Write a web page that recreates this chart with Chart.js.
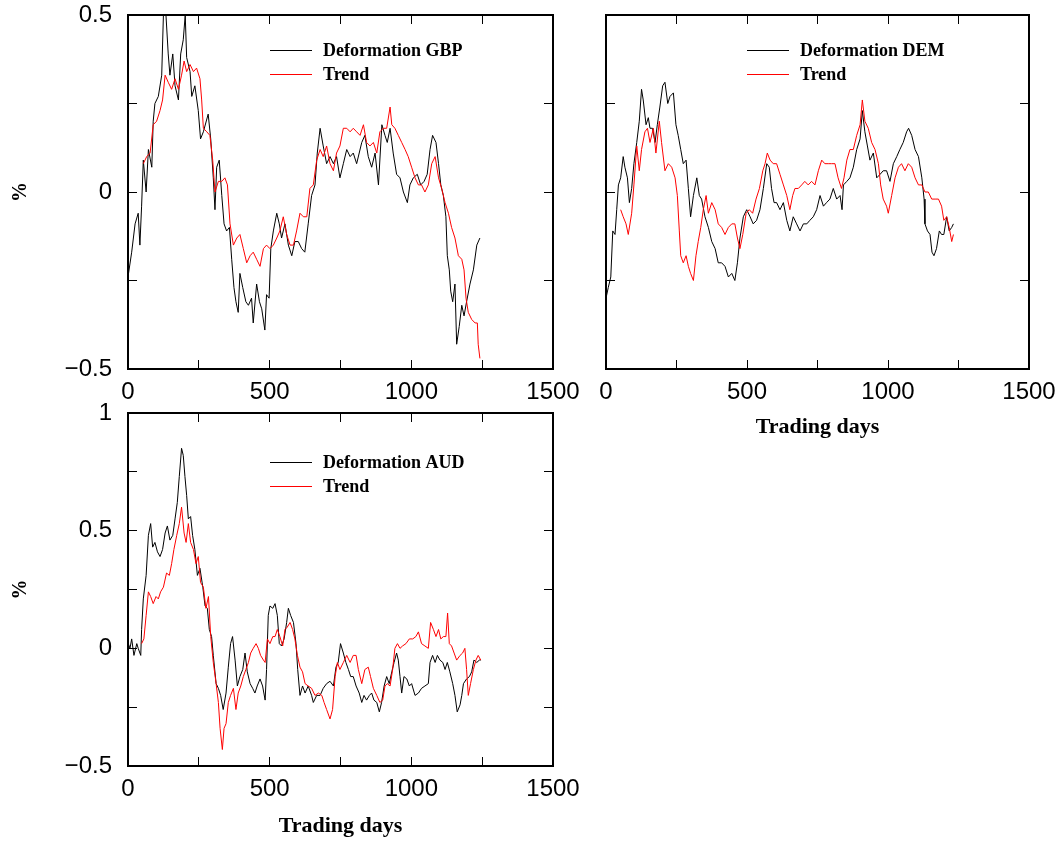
<!DOCTYPE html>
<html>
<head>
<meta charset="utf-8">
<title>Deformation and trend</title>
<script src="https://cdn.jsdelivr.net/npm/chart.js@4.4.1/dist/chart.umd.min.js"></script>
<style>
  html, body { margin: 0; padding: 0; background: #fff; }
  body { position: relative; width: 1064px; height: 842px; overflow: hidden; }
  canvas { position: absolute; }
</style>
</head>
<body>
<canvas id="gbpChart" width="590" height="400" style="left:0;top:0"></canvas>
<canvas id="demChart" width="504" height="460" style="left:560px;top:0"></canvas>
<canvas id="audChart" width="590" height="462" style="left:0;top:380px"></canvas>
<script>
// Gegevens (handelsdag, procent)

const gbpDeformDays = [0, 13, 25, 36, 42, 48, 54, 64, 72, 84, 89, 95, 107, 119, 125, 134, 142, 148, 158, 166, 178, 186, 195, 202, 207, 219, 225, 236, 248, 256, 266, 283, 292, 301, 307, 313, 322, 331, 339, 348, 358, 366, 374, 381, 389, 395, 405, 416, 425, 436, 442, 454, 464, 472, 483, 489, 498, 504, 513, 525, 534, 542, 554, 566, 578, 589, 601, 613, 624, 636, 648, 660, 668, 678, 689, 701, 713, 725, 736, 748, 760, 772, 784, 795, 807, 825, 836, 848, 860, 872, 884, 896, 907, 915, 925, 936, 948, 960, 972, 986, 995, 1007, 1021, 1033, 1045, 1056, 1066, 1075, 1087, 1096, 1104, 1113, 1122, 1127, 1134, 1139, 1146, 1154, 1160, 1169, 1178, 1186, 1195, 1207, 1219, 1231, 1242];
const gbpDeformVals = [-0.24, -0.17, -0.09, -0.06, -0.15, -0.04, 0.09, 0.0, 0.12, 0.07, 0.20, 0.25, 0.27, 0.33, 0.5, 0.5, 0.39, 0.33, 0.39, 0.30, 0.26, 0.39, 0.43, 0.5, 0.38, 0.34, 0.27, 0.30, 0.23, 0.15, 0.17, 0.22, 0.15, 0.04, -0.05, 0.07, 0.09, -0.01, -0.09, -0.11, -0.10, -0.19, -0.27, -0.31, -0.34, -0.23, -0.27, -0.31, -0.32, -0.30, -0.37, -0.26, -0.31, -0.33, -0.39, -0.29, -0.30, -0.16, -0.11, -0.06, -0.09, -0.13, -0.09, -0.15, -0.18, -0.14, -0.14, -0.16, -0.17, -0.09, -0.01, 0.02, 0.11, 0.18, 0.13, 0.08, 0.10, 0.08, 0.10, 0.04, 0.08, 0.12, 0.10, 0.11, 0.08, 0.14, 0.16, 0.10, 0.07, 0.11, 0.02, 0.19, 0.16, 0.14, 0.18, 0.11, 0.05, 0.04, 0.0, -0.03, 0.02, 0.04, 0.05, 0.02, 0.03, 0.05, 0.12, 0.16, 0.14, 0.08, 0.02, -0.01, -0.07, -0.18, -0.22, -0.28, -0.31, -0.26, -0.43, -0.38, -0.32, -0.35, -0.31, -0.26, -0.22, -0.15, -0.13];

const gbpTrendDays = [54, 66, 78, 89, 101, 113, 122, 131, 142, 154, 166, 178, 189, 198, 207, 219, 231, 242, 254, 260, 266, 278, 289, 299, 307, 319, 331, 342, 351, 360, 372, 384, 395, 407, 419, 431, 442, 454, 466, 478, 489, 501, 513, 525, 536, 548, 560, 572, 584, 595, 607, 619, 631, 642, 654, 666, 678, 689, 701, 713, 725, 736, 748, 760, 772, 784, 795, 807, 819, 831, 842, 854, 866, 878, 889, 901, 913, 925, 931, 942, 954, 966, 978, 989, 1001, 1013, 1025, 1036, 1048, 1060, 1072, 1084, 1096, 1107, 1119, 1131, 1142, 1154, 1166, 1178, 1186, 1193, 1201, 1213, 1225, 1233, 1236, 1242];
const gbpTrendVals = [0.08, 0.10, 0.11, 0.19, 0.20, 0.23, 0.26, 0.33, 0.31, 0.29, 0.32, 0.29, 0.33, 0.37, 0.34, 0.36, 0.34, 0.35, 0.32, 0.26, 0.18, 0.17, 0.16, 0.09, 0.0, 0.03, 0.03, 0.04, 0.02, -0.09, -0.15, -0.13, -0.12, -0.16, -0.20, -0.18, -0.17, -0.19, -0.21, -0.16, -0.15, -0.16, -0.15, -0.13, -0.11, -0.07, -0.12, -0.15, -0.15, -0.11, -0.06, -0.07, -0.07, 0.01, 0.02, 0.09, 0.12, 0.10, 0.13, 0.08, 0.06, 0.11, 0.13, 0.18, 0.18, 0.17, 0.18, 0.17, 0.16, 0.19, 0.14, 0.13, 0.14, 0.11, 0.17, 0.18, 0.18, 0.24, 0.19, 0.18, 0.16, 0.14, 0.12, 0.10, 0.07, 0.04, 0.02, 0.02, 0.0, 0.02, 0.08, 0.10, 0.04, 0.01, -0.03, -0.06, -0.10, -0.13, -0.18, -0.19, -0.22, -0.30, -0.34, -0.36, -0.37, -0.37, -0.43, -0.47];

const demDeformDays = [0, 8, 17, 24, 32, 38, 44, 52, 61, 67, 76, 83, 91, 99, 109, 118, 126, 132, 142, 150, 156, 165, 174, 182, 191, 201, 209, 219, 227, 239, 248, 256, 265, 274, 284, 292, 300, 310, 322, 331, 339, 351, 363, 375, 387, 398, 410, 422, 434, 446, 457, 466, 475, 487, 499, 511, 522, 534, 546, 558, 570, 579, 587, 596, 605, 617, 629, 641, 652, 664, 676, 688, 700, 712, 723, 735, 747, 759, 771, 782, 794, 806, 818, 830, 837, 842, 854, 865, 877, 889, 901, 909, 918, 927, 936, 948, 960, 972, 983, 995, 1007, 1019, 1031, 1042, 1054, 1066, 1073, 1084, 1096, 1108, 1120, 1128, 1131, 1140, 1149, 1156, 1163, 1172, 1182, 1190, 1198, 1208, 1217, 1226, 1232];
const demDeformVals = [-0.30, -0.27, -0.24, -0.11, -0.12, -0.05, 0.02, 0.04, 0.10, 0.07, 0.04, -0.03, 0.01, 0.08, 0.14, 0.20, 0.29, 0.26, 0.19, 0.21, 0.18, 0.18, 0.14, 0.19, 0.24, 0.30, 0.31, 0.25, 0.27, 0.28, 0.19, 0.16, 0.12, 0.08, 0.09, 0.01, -0.07, -0.01, 0.04, -0.01, -0.02, -0.07, -0.10, -0.14, -0.16, -0.20, -0.20, -0.21, -0.24, -0.23, -0.25, -0.20, -0.13, -0.07, -0.05, -0.07, -0.09, -0.08, -0.05, 0.01, 0.08, 0.07, 0.01, -0.03, -0.03, -0.05, -0.03, -0.08, -0.11, -0.07, -0.09, -0.11, -0.09, -0.09, -0.08, -0.07, -0.05, -0.01, -0.04, -0.03, -0.02, 0.01, -0.02, -0.01, -0.05, 0.02, 0.03, 0.04, 0.07, 0.12, 0.15, 0.23, 0.17, 0.13, 0.09, 0.11, 0.04, 0.05, 0.06, 0.06, 0.03, 0.08, 0.10, 0.12, 0.14, 0.17, 0.18, 0.16, 0.12, 0.10, 0.04, -0.02, -0.09, -0.11, -0.12, -0.17, -0.18, -0.16, -0.11, -0.12, -0.12, -0.07, -0.11, -0.10, -0.09];

const demTrendDays = [52, 61, 71, 79, 91, 99, 109, 118, 126, 138, 147, 156, 168, 177, 189, 197, 209, 221, 233, 245, 253, 260, 265, 274, 284, 292, 300, 310, 319, 327, 336, 345, 355, 363, 375, 387, 398, 410, 422, 434, 446, 457, 466, 475, 485, 497, 508, 520, 532, 544, 556, 564, 572, 582, 593, 605, 617, 629, 641, 652, 662, 670, 682, 694, 705, 717, 729, 741, 753, 765, 776, 788, 800, 812, 823, 835, 844, 854, 865, 877, 889, 901, 909, 918, 930, 942, 954, 966, 974, 983, 995, 1001, 1013, 1025, 1037, 1048, 1060, 1072, 1084, 1096, 1108, 1120, 1131, 1143, 1155, 1167, 1179, 1190, 1198, 1208, 1217, 1226, 1232];
const demTrendVals = [-0.05, -0.07, -0.09, -0.12, -0.06, 0.02, 0.13, 0.06, 0.12, 0.17, 0.18, 0.14, 0.18, 0.11, 0.20, 0.14, 0.06, 0.08, 0.07, 0.04, -0.01, -0.11, -0.18, -0.20, -0.18, -0.21, -0.23, -0.25, -0.18, -0.14, -0.10, -0.05, -0.01, -0.06, -0.03, -0.05, -0.09, -0.10, -0.12, -0.10, -0.09, -0.09, -0.13, -0.16, -0.12, -0.06, -0.05, -0.06, -0.02, 0.01, 0.06, 0.08, 0.11, 0.09, 0.08, 0.08, 0.05, 0.02, -0.01, -0.05, -0.01, 0.01, 0.01, 0.02, 0.03, 0.02, 0.03, 0.02, 0.06, 0.09, 0.08, 0.08, 0.08, 0.08, 0.04, 0.01, 0.04, 0.09, 0.12, 0.12, 0.16, 0.19, 0.26, 0.20, 0.18, 0.14, 0.12, 0.08, 0.02, -0.02, -0.04, -0.06, -0.01, 0.04, 0.07, 0.08, 0.06, 0.08, 0.07, 0.04, 0.02, 0.02, 0.0, 0.0, -0.02, -0.02, -0.02, -0.04, -0.08, -0.07, -0.10, -0.14, -0.12];

const audDeformDays = [1, 7, 13, 21, 31, 36, 45, 48, 54, 64, 72, 80, 87, 95, 104, 113, 122, 131, 139, 148, 158, 166, 174, 181, 189, 195, 201, 207, 213, 221, 228, 236, 245, 254, 264, 272, 280, 287, 295, 301, 311, 319, 327, 336, 346, 354, 362, 369, 378, 386, 395, 405, 413, 421, 431, 440, 448, 456, 466, 475, 484, 489, 495, 501, 511, 519, 527, 534, 542, 551, 560, 566, 574, 584, 593, 599, 607, 616, 625, 636, 648, 654, 666, 678, 689, 701, 713, 725, 734, 742, 750, 760, 769, 778, 786, 795, 805, 816, 825, 833, 842, 852, 860, 868, 878, 887, 895, 904, 913, 922, 931, 939, 948, 954, 960, 966, 974, 984, 993, 1001, 1013, 1025, 1036, 1048, 1060, 1066, 1075, 1084, 1092, 1101, 1111, 1119, 1127, 1136, 1146, 1154, 1162, 1172, 1178, 1184, 1195, 1205, 1213, 1221, 1231, 1240, 1245];
const audDeformVals = [0.02, 0.0, 0.04, -0.03, 0.02, 0.0, -0.03, 0.08, 0.21, 0.31, 0.48, 0.53, 0.43, 0.45, 0.41, 0.39, 0.42, 0.49, 0.52, 0.46, 0.48, 0.55, 0.62, 0.73, 0.85, 0.82, 0.73, 0.65, 0.55, 0.56, 0.48, 0.42, 0.31, 0.34, 0.26, 0.18, 0.17, 0.08, 0.05, -0.03, -0.15, -0.17, -0.20, -0.26, -0.19, -0.08, 0.02, 0.05, -0.05, -0.16, -0.12, -0.09, -0.02, -0.10, -0.15, -0.17, -0.19, -0.16, -0.13, -0.16, -0.22, -0.09, 0.14, 0.18, 0.17, 0.19, 0.14, 0.02, 0.01, 0.04, 0.11, 0.17, 0.14, 0.11, 0.02, -0.09, -0.20, -0.16, -0.19, -0.16, -0.20, -0.23, -0.20, -0.20, -0.17, -0.15, -0.14, -0.16, -0.08, -0.06, 0.02, -0.02, -0.06, -0.09, -0.12, -0.12, -0.16, -0.19, -0.23, -0.20, -0.22, -0.20, -0.19, -0.22, -0.23, -0.27, -0.23, -0.16, -0.12, -0.15, -0.10, -0.06, -0.02, -0.05, -0.12, -0.19, -0.12, -0.13, -0.16, -0.15, -0.20, -0.19, -0.17, -0.16, -0.15, -0.06, -0.03, -0.06, -0.03, -0.05, -0.06, -0.09, -0.06, -0.10, -0.15, -0.20, -0.27, -0.24, -0.20, -0.15, -0.13, -0.12, -0.10, -0.05, -0.06, -0.05, -0.05];

const audTrendDays = [48, 56, 64, 72, 80, 89, 99, 107, 115, 125, 136, 146, 154, 162, 172, 181, 189, 198, 205, 213, 221, 231, 240, 248, 256, 266, 275, 284, 292, 301, 311, 319, 325, 333, 339, 346, 354, 362, 372, 381, 389, 398, 407, 416, 425, 433, 442, 452, 460, 468, 478, 484, 492, 501, 511, 519, 527, 536, 546, 554, 562, 572, 581, 589, 598, 607, 616, 625, 636, 648, 660, 672, 684, 692, 701, 713, 722, 731, 739, 748, 760, 772, 784, 795, 805, 813, 825, 836, 848, 856, 866, 878, 889, 899, 907, 915, 925, 934, 942, 951, 960, 969, 981, 993, 1005, 1016, 1025, 1036, 1048, 1060, 1068, 1078, 1087, 1096, 1104, 1113, 1122, 1128, 1134, 1142, 1151, 1160, 1172, 1181, 1189, 1195, 1201, 1209, 1219, 1228, 1236, 1245];
const audTrendVals = [0.02, 0.04, 0.14, 0.24, 0.22, 0.19, 0.22, 0.21, 0.24, 0.26, 0.32, 0.31, 0.36, 0.42, 0.48, 0.53, 0.60, 0.49, 0.45, 0.53, 0.45, 0.42, 0.36, 0.39, 0.28, 0.26, 0.17, 0.22, 0.05, -0.06, -0.15, -0.23, -0.34, -0.43, -0.34, -0.32, -0.23, -0.20, -0.17, -0.26, -0.19, -0.16, -0.12, -0.09, -0.06, -0.02, 0.0, 0.02, 0.0, -0.03, -0.05, -0.06, 0.04, 0.02, 0.05, 0.05, 0.08, 0.05, 0.01, 0.08, 0.09, 0.11, 0.08, 0.04, -0.03, -0.08, -0.10, -0.15, -0.16, -0.17, -0.20, -0.19, -0.20, -0.23, -0.26, -0.30, -0.26, -0.12, -0.06, -0.09, -0.06, -0.03, -0.06, -0.03, -0.03, -0.09, -0.15, -0.09, -0.08, -0.12, -0.17, -0.20, -0.23, -0.22, -0.16, -0.15, -0.16, -0.09, 0.0, 0.02, 0.0, 0.01, 0.02, 0.04, 0.04, 0.05, 0.07, 0.02, 0.01, 0.0, 0.11, 0.08, 0.05, 0.08, 0.04, 0.05, 0.05, 0.15, 0.02, 0.01, -0.02, -0.05, -0.03, -0.02, 0.0, -0.09, -0.20, -0.15, -0.09, -0.05, -0.03, -0.05];

// As-instellingen
const dayTicks = [0, 1500, 250];          // min, max, stap
const gbpDemRange = [-0.5, 0.5, 0.25];
const audRange = [-0.5, 1, 0.25];

function toPoints(days, vals) {
    return days.map((d, i) => ({ x: d, y: vals[i] }));
}

// Alleen elke 500 dagen een label, tussenliggende streepjes blijven staan
function dayLabel(v) {
    return v % 500 === 0 ? String(v) : '';
}

function pctLabel(v) {
    if (Math.abs(v * 2 - Math.round(v * 2)) > 1e-9) return '';
    if (v === 0) return '0';
    return v < 0 ? '\u2212' + Math.abs(v) : String(v);
}

// Schaal heeft vaste maat; de extra marge die Chart.js voor de labels vraagt laten we weg
function fixSize(prop, size) {
    return scale => {
        scale[prop] = size;
        scale.paddingTop = 0;
        scale.paddingBottom = 0;
        scale.paddingLeft = 0;
        scale.paddingRight = 0;
    };
}

// Legenda binnen het grafiekvlak, zoals in de originele figuur
const insideLegend = {
    id: 'insideLegend',
    afterDraw(chart, args, opts) {
        const { ctx, chartArea } = chart;
        ctx.save();
        ctx.font = 'bold 18px "Liberation Serif"';
        ctx.textBaseline = 'middle';
        ctx.textAlign = 'left';
        chart.data.datasets.forEach((ds, i) => {
            const x = chartArea.left + opts.left;
            const y = Math.round(chartArea.top + opts.top + i * 24);
            ctx.strokeStyle = ds.borderColor;
            ctx.lineWidth = 1;
            ctx.beginPath();
            ctx.moveTo(x, y + 0.5);
            ctx.lineTo(x + 42, y + 0.5);
            ctx.stroke();
            ctx.fillStyle = '#000';
            ctx.fillText(ds.label, x + 53, y + 1);
        });
        ctx.restore();
    }
};

function buildScales(s) {
    const tickFont = { family: 'Liberation Sans', size: 24 };
    const grid = { drawOnChartArea: false, drawTicks: true, tickLength: -9, tickColor: '#000', tickWidth: 1 };
    const border = { display: true, color: '#000', width: 2 };
    return {
        x: {
            type: 'linear', position: 'bottom',
            min: dayTicks[0], max: dayTicks[1],
            afterFit: fixSize('height', s.xHeight),
            ticks: { stepSize: dayTicks[2], autoSkip: false, maxRotation: 0, padding: 18, color: '#000', font: tickFont, callback: dayLabel },
            grid, border,
            title: {
                display: !!s.xTitle, text: s.xTitle || '', color: '#000',
                font: { family: 'Liberation Serif', size: 22, weight: 'bold' },
                padding: { top: 0, bottom: s.xTitlePad || 0 }
            }
        },
        x2: {
            type: 'linear', position: 'top',
            min: dayTicks[0], max: dayTicks[1],
            afterFit: fixSize('height', 0),
            ticks: { stepSize: dayTicks[2], autoSkip: false, display: false },
            grid, border
        },
        y: {
            type: 'linear', position: 'left',
            min: s.range[0], max: s.range[1],
            afterFit: fixSize('width', s.yWidth),
            ticks: { stepSize: s.range[2], autoSkip: false, display: s.yLabels, padding: 25, color: '#000', font: tickFont, callback: pctLabel },
            grid, border,
            title: {
                display: !!s.yTitle, text: s.yTitle || '', color: '#000',
                font: { family: 'Liberation Serif', size: 20, weight: 'bold' },
                padding: { top: 9, bottom: 0 }
            }
        },
        y2: {
            type: 'linear', position: 'right',
            min: s.range[0], max: s.range[1],
            afterFit: fixSize('width', 0),
            ticks: { stepSize: s.range[2], autoSkip: false, display: false },
            grid, border
        }
    };
}

function makePanel(canvasId, s) {
    const ctx = document.getElementById(canvasId).getContext('2d');
    return new Chart(ctx, {
        type: 'line',
        data: {
            datasets: [
                { label: s.labels[0], data: toPoints(s.deform[0], s.deform[1]), borderColor: '#000000', borderWidth: 1, pointRadius: 0, tension: 0, fill: false, order: 1, xAxisID: 'x', yAxisID: 'y' },
                { label: s.labels[1], data: toPoints(s.trend[0], s.trend[1]), borderColor: '#ff0000', borderWidth: 1, pointRadius: 0, tension: 0, fill: false, order: 0, xAxisID: 'x', yAxisID: 'y' }
            ]
        },
        options: {
            responsive: false,
            animation: false,
            events: [],
            layout: { padding: s.padding },
            plugins: {
                legend: { display: false },
                tooltip: { enabled: false },
                insideLegend: s.legend
            },
            scales: buildScales(s)
        },
        plugins: [insideLegend]
    });
}

makePanel('gbpChart', {
    labels: ['Deformation GBP', 'Trend'],
    deform: [gbpDeformDays, gbpDeformVals],
    trend: [gbpTrendDays, gbpTrendVals],
    range: gbpDemRange,
    padding: { top: 15, right: 37, bottom: 0, left: 0 },
    xHeight: 31, yWidth: 128, yLabels: true,
    yTitle: '%',
    legend: { left: 142, top: 35 }
});

makePanel('demChart', {
    labels: ['Deformation DEM', 'Trend'],
    deform: [demDeformDays, demDeformVals],
    trend: [demTrendDays, demTrendVals],
    range: gbpDemRange,
    padding: { top: 15, right: 35, bottom: 0, left: 0 },
    xHeight: 91, yWidth: 46, yLabels: false,
    xTitle: 'Trading days', xTitlePad: 19,
    legend: { left: 141, top: 35 }
});

makePanel('audChart', {
    labels: ['Deformation AUD', 'Trend'],
    deform: [audDeformDays, audDeformVals],
    trend: [audTrendDays, audTrendVals],
    range: audRange,
    padding: { top: 33, right: 37, bottom: 0, left: 0 },
    xHeight: 76, yWidth: 128, yLabels: true,
    xTitle: 'Trading days', xTitlePad: 2,
    yTitle: '%',
    legend: { left: 142, top: 49 }
});
</script>
</body>
</html>
